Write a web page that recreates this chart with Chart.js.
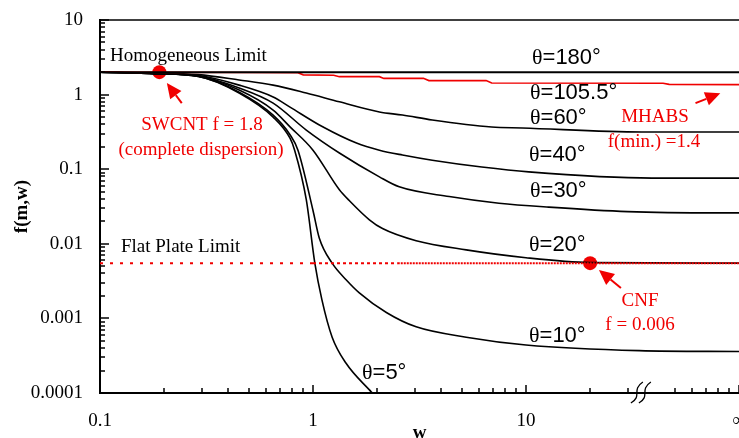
<!DOCTYPE html>
<html>
<head>
<meta charset="utf-8">
<script src="https://cdn.jsdelivr.net/npm/chart.js@4.4.0/dist/chart.umd.min.js"></script>
<style>
  html, body { margin: 0; padding: 0; background: #fff; }
  #wrap { width: 739px; height: 438px; position: relative; }
</style>
</head>
<body>
<div id="wrap"><canvas id="chart"></canvas></div>
<script>
// curve data, [w, f(m,w)]
const theta180 = [[0.1, 2], [100, 2]];
const theta105 = [[0.1, 2], [0.5, 1.98], [0.85, 1.96], [0.9, 1.84], [1.25, 1.82], [1.33, 1.74], [2.05, 1.74], [2.15, 1.65], [3.3, 1.65], [3.5, 1.54], [6.5, 1.54], [6.9, 1.43], [44, 1.42], [47, 1.37], [100, 1.36]];
const theta60 = [[0.1, 2], [0.17, 1.95], [0.29, 1.85], [0.45, 1.57], [0.65, 1.34], [0.93, 1.05], [1.33, 0.8], [2.05, 0.585], [2.63, 0.533], [3.63, 0.457], [6.9, 0.368], [9.6, 0.357], [35, 0.315], [100, 0.315]];
const theta40 = [[0.1, 2], [0.17, 1.93], [0.29, 1.8], [0.45, 1.34], [0.65, 0.93], [0.78, 0.68], [1.11, 0.37], [1.6, 0.224], [2.05, 0.18], [2.63, 0.155], [3.63, 0.132], [6.2, 0.107], [10.3, 0.092], [39, 0.076], [100, 0.076]];
const theta30 = [[0.1, 2], [0.17, 1.92], [0.29, 1.78], [0.45, 1.23], [0.65, 0.77], [0.93, 0.335], [1.33, 0.165], [2.05, 0.079], [2.54, 0.058], [4.36, 0.043], [7.47, 0.035], [12.8, 0.031], [30, 0.027], [80, 0.026], [100, 0.026]];
const theta20 = [[0.1, 2], [0.17, 1.92], [0.29, 1.76], [0.45, 1.15], [0.65, 0.62], [0.78, 0.37], [1.0, 0.18], [1.33, 0.053], [1.48, 0.038], [1.84, 0.021], [2.12, 0.016], [3.05, 0.011], [5.24, 0.0083], [10, 0.0065], [20, 0.0056], [100, 0.0055]];
const theta10 = [[0.1, 2], [0.17, 1.92], [0.29, 1.75], [0.45, 1.08], [0.65, 0.53], [0.78, 0.29], [0.85, 0.18], [1.0, 0.028], [1.07, 0.012], [1.23, 0.0055], [1.43, 0.0033], [1.65, 0.0022], [2.21, 0.0012], [3.05, 0.00077], [5.24, 0.00056], [10, 0.00044], [34, 0.00037], [100, 0.00036]];
const theta5 = [[0.1, 2], [0.17, 1.92], [0.29, 1.75], [0.45, 1.05], [0.65, 0.5], [0.78, 0.26], [0.82, 0.18], [0.93, 0.039], [1.02, 0.0055], [1.1, 0.0018], [1.23, 0.00056], [1.43, 0.00025], [1.84, 0.00011], [1.9, 0.0001]];

// flat plate limit and the two marked materials
const flatPlate = 0.0055;
const flatSegments = [[0.1, 1], [1, 2.5], [2.5, 100]];
const swcnt = [[0.19, 2.0]];
const cnf = [[20, 0.0055]];

// arrows: [tail w, tail f, tip w, tip f]
const arrows = [
  [0.242, 0.77, 0.206, 1.43],
  [27.9, 0.00256, 22, 0.00445],
  [62.5, 0.77, 81.7, 1.04]
];

// axis ranges and labelled ticks
const xMin = 0.1, xMax = 100;
const yMin = 0.0001, yMax = 10;
const xSkipTicks = [40];
const breakAt = 35;

const SERIF = "'Liberation Serif', 'Times New Roman', serif";
const SANS = "'Liberation Sans', Arial, sans-serif";
const RED = "#f00000";

function pts(arr) {
  return arr.map(p => ({ x: p[0], y: p[1] }));
}

function curve(arr, color, width, tension) {
  return {
    data: pts(arr),
    borderColor: color,
    borderWidth: width,
    pointRadius: 0,
    fill: false,
    cubicInterpolationMode: tension ? "monotone" : "default",
    tension: 0
  };
}

const dashes = [[3, 7], [3, 3], [2, 1]];
const datasets = [];
flatSegments.forEach((s, i) => {
  datasets.push({
    data: pts([[s[0], flatPlate], [s[1], flatPlate]]),
    borderColor: RED,
    borderWidth: 2,
    borderDash: dashes[i],
    pointRadius: 0
  });
});
datasets.push(curve(theta180, "#000", 2, false));
datasets.push(curve(theta105, RED, 1.6, false));
[theta60, theta40, theta30, theta20, theta10, theta5].forEach(c => {
  datasets.push(curve(c, "#000", 1.6, true));
});
[swcnt, cnf].forEach(p => {
  datasets.push({
    data: pts(p),
    showLine: false,
    pointRadius: 7,
    pointBackgroundColor: RED,
    pointBorderColor: RED,
    pointBorderWidth: 0
  });
});

// text labels drawn on top
const thetaLabels = [
  ["180°", 532, 58],
  ["105.5°", 530, 93],
  ["60°", 530, 118],
  ["40°", 529, 155],
  ["30°", 530, 191],
  ["20°", 529, 245],
  ["10°", 529, 336],
  ["5°", 362, 373]
];
const notes = [
  ["Homogeneous Limit", 110, 56, "#000", "left"],
  ["Flat Plate Limit", 121, 247, "#000", "left"],
  ["SWCNT f = 1.8", 202, 125, RED, "center"],
  ["(complete dispersion)", 201, 150, RED, "center"],
  ["MHABS", 655, 117, RED, "center"],
  ["f(min.) =1.4", 654, 142, RED, "center"],
  ["CNF", 640, 301, RED, "center"],
  ["f = 0.006", 640, 325, RED, "center"]
];

function decadeLabel(v) {
  const l = Math.log10(v);
  if (Math.abs(l - Math.round(l)) > 1e-6) return "";
  const e = Math.round(l);
  return e >= 0 ? String(Math.pow(10, e)) : Math.pow(10, e).toFixed(-e);
}

function tickValues(lo, hi) {
  const out = [];
  for (let e = Math.round(Math.log10(lo)); e <= Math.round(Math.log10(hi)); e++) {
    for (let m = 1; m <= 9; m++) {
      const v = m * Math.pow(10, e);
      if (v >= lo * 0.999 && v <= hi * 1.001) out.push([v, m === 1]);
    }
  }
  return out;
}

function drawArrow(ctx, x1, y1, x2, y2) {
  const ang = Math.atan2(y2 - y1, x2 - x1);
  const hl = 15, hw = 7;
  const bx = x2 - hl * Math.cos(ang), by = y2 - hl * Math.sin(ang);
  ctx.beginPath();
  ctx.moveTo(x1, y1);
  ctx.lineTo(bx, by);
  ctx.stroke();
  ctx.beginPath();
  ctx.moveTo(x2, y2);
  ctx.lineTo(bx + hw * Math.sin(ang), by - hw * Math.cos(ang));
  ctx.lineTo(bx - hw * Math.sin(ang), by + hw * Math.cos(ang));
  ctx.closePath();
  ctx.fill();
}

const overlay = {
  id: "overlay",
  afterDraw(chart) {
    const ctx = chart.ctx;
    const xs = chart.scales.x, ys = chart.scales.y;
    const a = chart.chartArea;
    ctx.save();
    ctx.strokeStyle = "#000";
    ctx.lineWidth = 1.5;
    // top frame line
    ctx.beginPath();
    ctx.moveTo(a.left, a.top);
    ctx.lineTo(a.right, a.top);
    ctx.stroke();
    // ticks pointing into the plot
    tickValues(yMin, yMax).forEach(t => {
      const py = Math.round(ys.getPixelForValue(t[0]));
      ctx.beginPath();
      ctx.moveTo(a.left, py);
      ctx.lineTo(a.left + (t[1] ? 9 : 5), py);
      ctx.stroke();
    });
    tickValues(xMin, xMax).forEach(t => {
      if (xSkipTicks.some(s => Math.abs(s - t[0]) < 1e-6)) return;
      const px = Math.round(xs.getPixelForValue(t[0]));
      ctx.beginPath();
      ctx.moveTo(px, a.bottom);
      ctx.lineTo(px, a.bottom - (t[1] ? 8 : 5));
      ctx.stroke();
    });
    // axis break
    const bx = xs.getPixelForValue(breakAt);
    ctx.lineWidth = 1.3;
    [-4, 4].forEach(off => {
      const x = bx + off;
      ctx.beginPath();
      ctx.moveTo(x - 7, a.bottom + 10);
      ctx.bezierCurveTo(x + 5, a.bottom + 3, x - 7, a.bottom - 3, x + 5, a.bottom - 11);
      ctx.stroke();
    });
    // arrows
    ctx.strokeStyle = RED;
    ctx.fillStyle = RED;
    ctx.lineWidth = 2;
    arrows.forEach(r => {
      drawArrow(ctx, xs.getPixelForValue(r[0]), ys.getPixelForValue(r[1]),
        xs.getPixelForValue(r[2]), ys.getPixelForValue(r[3]));
    });
    // notes
    ctx.textBaseline = "middle";
    ctx.font = "19px " + SERIF;
    notes.forEach(n => {
      ctx.fillStyle = n[3];
      ctx.textAlign = n[4];
      ctx.fillText(n[0], n[1], n[2]);
    });
    // theta labels
    ctx.fillStyle = "#000";
    ctx.textAlign = "left";
    thetaLabels.forEach(l => {
      ctx.font = "22px " + SERIF;
      ctx.fillText("θ", l[1], l[2]);
      const w = ctx.measureText("θ").width;
      ctx.font = "22px " + SANS;
      ctx.fillText("=" + l[0], l[1] + w, l[2]);
    });
    ctx.restore();
  }
};

new Chart(document.getElementById("chart"), {
  type: "line",
  data: { datasets: datasets },
  options: {
    responsive: true,
    maintainAspectRatio: false,
    animation: false,
    devicePixelRatio: 1,
    layout: { autoPadding: false, padding: { top: 20, right: 0, left: 0, bottom: 0 } },
    plugins: { legend: { display: false }, tooltip: { enabled: false } },
    scales: {
      x: {
        type: "logarithmic",
        position: "bottom",
        min: xMin,
        max: xMax,
        afterFit: s => {
          s.height = 45;
          s.paddingLeft = 0;
          s.paddingRight = 0;
        },
        grid: { display: false, drawTicks: false },
        border: { display: true, color: "#000", width: 2 },
        ticks: {
          autoSkip: false,
          maxRotation: 0,
          padding: 17,
          color: "#000",
          font: { family: SERIF, size: 19 },
          callback: v => (Math.abs(v - xMax) < 1e-6 ? "∞" : decadeLabel(v))
        },
        title: {
          display: true,
          text: "w",
          color: "#000",
          font: { family: SERIF, size: 19, weight: "bold" },
          padding: { top: 0, bottom: -6 }
        }
      },
      y: {
        type: "logarithmic",
        position: "left",
        min: yMin,
        max: yMax,
        afterFit: s => {
          s.width = 100;
          s.paddingTop = 0;
          s.paddingBottom = 0;
        },
        grid: { display: false, drawTicks: false },
        border: { display: true, color: "#000", width: 2 },
        ticks: {
          autoSkip: false,
          padding: 17,
          color: "#000",
          font: { family: SERIF, size: 19 },
          callback: v => decadeLabel(v)
        },
        title: {
          display: true,
          text: "f(m,w)",
          color: "#000",
          font: { family: SERIF, size: 19, weight: "bold" },
          padding: { top: 11, bottom: 0 }
        }
      }
    }
  },
  plugins: [overlay]
});
</script>
</body>
</html>
